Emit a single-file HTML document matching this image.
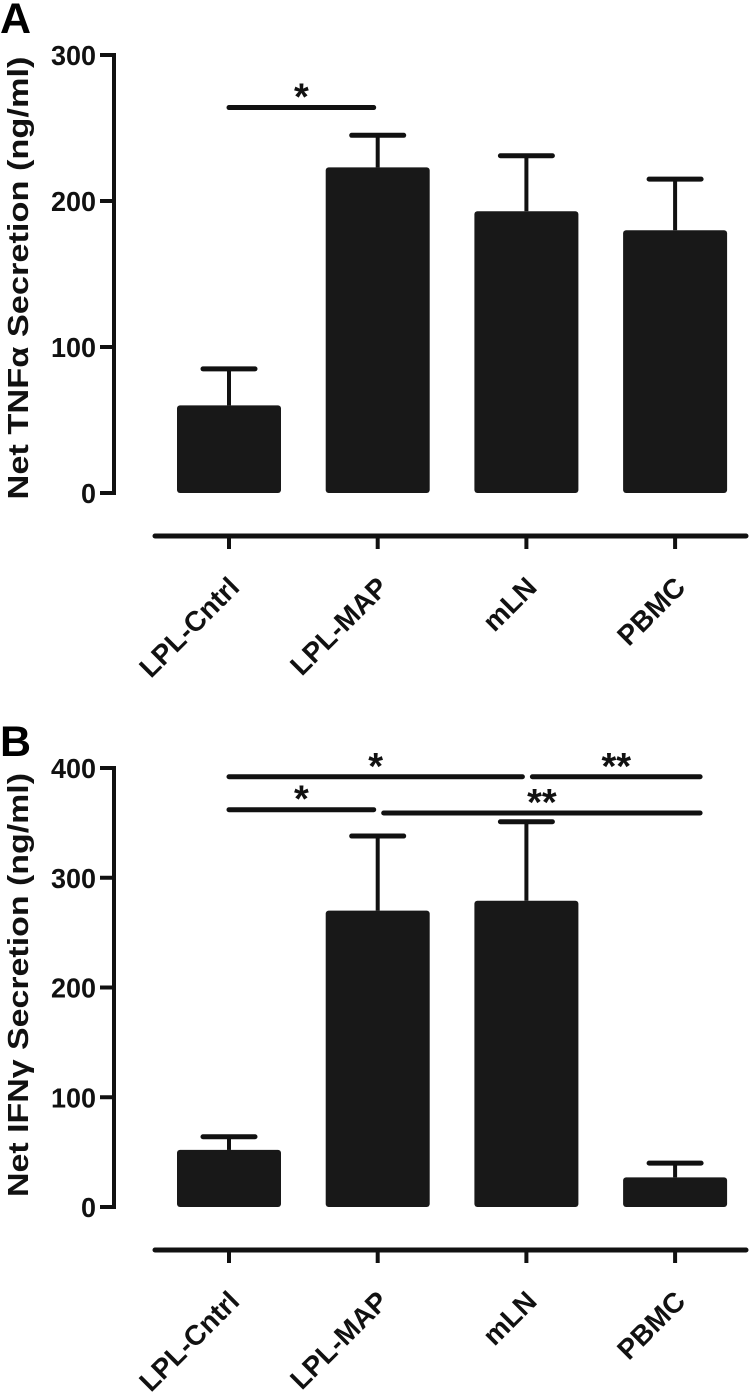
<!DOCTYPE html>
<html><head><meta charset="utf-8"><style>
html,body{margin:0;padding:0;background:#fff;}
svg{display:block;font-family:"Liberation Sans",Arial,sans-serif;font-weight:bold;}
</style></head><body>
<svg id="fig" width="750" height="1393" viewBox="0 0 750 1393">
<text x="0" y="33" font-size="43">A</text>
<text x="0" y="756" font-size="43">B</text>
</svg>
<script>
const categories = ["LPL-Cntrl","LPL-MAP","mLN","PBMC"];
const tnfValues = [60, 223, 193, 180];
const tnfErrors = [25, 22, 38, 35];
const tnfTicks = [0, 100, 200, 300];
const ifnValues = [52, 270, 279, 27];
const ifnErrors = [12, 68, 72, 13];
const ifnTicks = [0, 100, 200, 300, 400];
// significance: [fromIndex, toIndex, level(value), label]
const tnfSig = [[0, 1, 264, "*"]];
const ifnSig = [[0, 2, 392, "*"], [2, 3, 392, "**"], [0, 1, 362, "*"], [1, 3, 359, "**"]];

const NS = "http://www.w3.org/2000/svg";
const svg = document.getElementById("fig");
function mk(tag, attrs, parent){
  const e = document.createElementNS(NS, tag);
  for (const k in attrs) e.setAttribute(k, attrs[k]);
  (parent||svg).appendChild(e); return e;
}
function panel(cfg){
  const g = mk("g", {});
  
  
  const y = v => cfg.y0 - (v - 0) * (cfg.y0 - cfg.yTop) / (cfg.ticks[cfg.ticks.length-1]);
  const x = i => 229 + i * 148.7;
  const bw = 104;
  const ax = mk("line", {x1:114, y1:y(cfg.ticks[cfg.ticks.length-1])-2, x2:114, y2:cfg.y0+2, stroke:"#111","stroke-width":4}, g);
  
  
  cfg.ticks.forEach(t=>{
    const tl = mk("line", {x1:100, y1:y(t), x2:116, y2:y(t), stroke:"#111","stroke-width":4}, g);
    
    
    const s = String(t);
    const tx = mk("text", {x:96, y:y(t)+10, "font-size":28, "text-anchor":"end", fill:"#111",
      textLength: s.length*15, lengthAdjust:"spacingAndGlyphs"}, g);
    tx.textContent = s;
    
    
  });
  const yt = mk("text", {x:0, y:0, "font-size":29, "text-anchor":"middle", fill:"#111",
    transform:`translate(${cfg.titleX},${cfg.titleY}) rotate(-90)`, textLength:cfg.titleLen, lengthAdjust:"spacingAndGlyphs"}, g);
  yt.textContent = cfg.title;
  
  
  cfg.values.forEach((v,i)=>{
    const cx = x(i);
    const eb = mk("line", {x1:cx, y1:y(v), x2:cx, y2:y(v+cfg.errors[i]), stroke:"#111","stroke-width":4}, g);
    
    
    const cap = mk("line", {x1:cx-26, y1:y(v+cfg.errors[i]), x2:cx+26, y2:y(v+cfg.errors[i]), stroke:"#111","stroke-width":5,"stroke-linecap":"round"}, g);
    
    
    const r = mk("rect", {x:cx-bw/2, y:y(v), width:bw, height:cfg.y0 - y(v), rx:3, fill:"#181818"}, g);
    
    
  });
  const xa = mk("line", {x1:155, y1:cfg.xAxisY, x2:746, y2:cfg.xAxisY, stroke:"#111","stroke-width":5,"stroke-linecap":"round"}, g);
  
  
  categories.forEach((c,i)=>{
    const cx = x(i);
    const tk = mk("line", {x1:cx, y1:cfg.xAxisY, x2:cx, y2:cfg.xAxisY+13, stroke:"#111","stroke-width":4}, g);
    
    
    const lt = mk("text", {x:0, y:0, "font-size":28, "text-anchor":"end", fill:"#111",
      transform:`translate(${cx+12},${cfg.xAxisY+53}) rotate(-45)`}, g);
    lt.textContent = c;
    
    
  });
  cfg.sig.forEach(s=>{
    const x1 = x(s[0]) + (s[0]===0 ? 0 : 6), x2 = x(s[1]) - (s[1]===3 ? -25 : 4);
    const sl = mk("line", {x1:x1, y1:y(s[2]), x2:x2, y2:y(s[2]), stroke:"#111","stroke-width":5,"stroke-linecap":"round"}, g);
    
    
    const st = mk("text", {x:(x1+x2)/2, y:y(s[2])+2, "font-size":38, "text-anchor":"middle", fill:"#111"}, g);
    st.textContent = s[3];
    
    
  });
}
panel({name:"panel-a-tnf", values:tnfValues, errors:tnfErrors, ticks:tnfTicks, y0:493, yTop:55,
  xAxisY:536, sig:tnfSig, title:"Net TNF\u03b1 Secretion (ng/ml)", titleX:28, titleY:278, titleLen:443});
panel({name:"panel-b-ifn", values:ifnValues, errors:ifnErrors, ticks:ifnTicks, y0:1207, yTop:768,
  xAxisY:1250, sig:ifnSig, title:"Net IFN\u03b3 Secretion (ng/ml)", titleX:28, titleY:985, titleLen:424});
</script>
</body></html>
